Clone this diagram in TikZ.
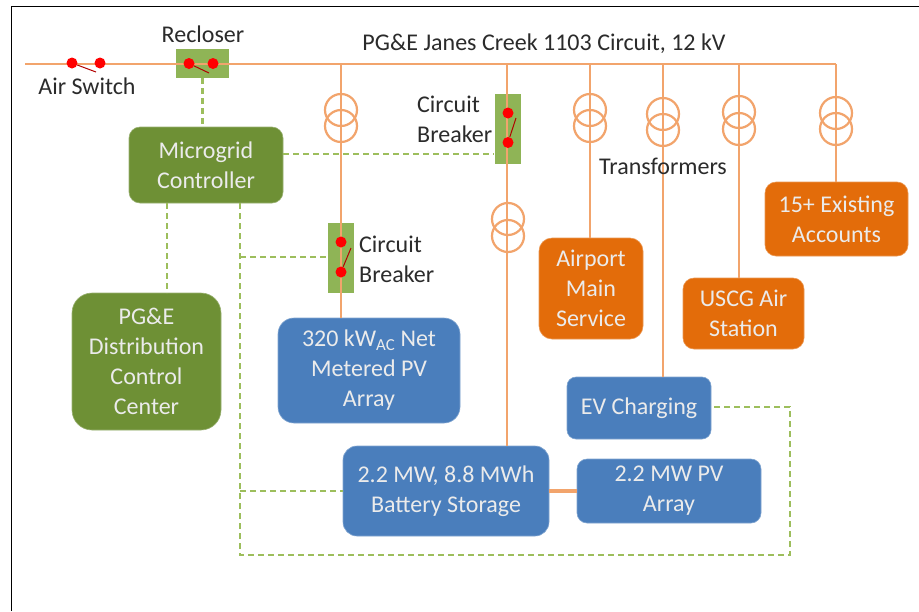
\documentclass[tikz,border=0pt]{standalone}
\usepackage{fontspec}
\setmainfont{Carlito}
\definecolor{wire}{HTML}{F2A46C}
\definecolor{orbox}{HTML}{E36C0A}
\definecolor{grbox}{HTML}{6E9035}
\definecolor{swbox}{HTML}{8FB456}
\definecolor{blbox}{HTML}{4A7EBC}
\definecolor{dash}{HTML}{9DBE5C}
\definecolor{ink}{HTML}{2B2B2B}
\tikzset{
  x=1pt,y=-1pt,
  box/.style={rounded corners=11pt,inner sep=0pt,align=center,text=white!92!black,font=\fontsize{24}{30}\selectfont,anchor=center},
  grn/.style={box,fill=grbox,draw=grbox!70!white,line width=.6pt},
  org/.style={box,fill=orbox,draw=orbox!70!white,line width=.6pt},
  blu/.style={box,fill=blbox,draw=blbox!70!white,line width=.6pt},
  swb/.style={fill=swbox,inner sep=0pt,anchor=center},
  lbl/.style={text=ink,align=left,font=\fontsize{24}{30}\selectfont,inner sep=0pt},
  wirel/.style={draw=wire,line width=2.8pt},
  ctl/.style={draw=dash,line width=2.4pt,dash pattern=on 6pt off 4pt},
  xf/.style={circle,draw=wire,line width=2.2pt,minimum size=32pt,inner sep=0pt},
  contact/.style={circle,fill=red,inner sep=0pt,minimum size=11pt},
  blade/.style={draw=red!70!black,line width=1pt},
}
\begin{document}
\begin{tikzpicture}
\useasboundingbox (0,0) rectangle (919,611);
\fill[white] (0,0) rectangle (919,611);
% frame
\draw[black,line width=1.8pt] (11.5,611) -- (11.5,6.5) -- (919,6.5);

% switch boxes
\node[swb,minimum width=53pt,minimum height=29pt] (recl) at (202.5,63.5) {};
\node[swb,minimum width=26pt,minimum height=70pt] (cb1) at (340.5,257.5) {};
\node[swb,minimum width=26pt,minimum height=70pt] (cb2) at (507.5,128.5) {};

% boxes
\node[grn,minimum width=154pt,minimum height=76pt] (mg) at (206,165) {Microgrid\\Controller};
\node[grn,minimum width=149pt,minimum height=137pt,rounded corners=20pt] (dcc) at (146.5,361.5) {PG\&E\\Distribution\\Control\\Center};
\node[blu,minimum width=182pt,minimum height=105pt,rounded corners=16pt] (pv320) at (369,370.5) {320 kW\textsubscript{AC} Net\\Metered PV\\Array};
\node[blu,minimum width=144pt,minimum height=62pt,rounded corners=9pt] (ev) at (639,408) {EV Charging};
\node[blu,minimum width=206pt,minimum height=90pt,rounded corners=14pt] (batt) at (446,491) {2.2 MW, 8.8 MWh\\Battery Storage};
\node[blu,minimum width=184pt,minimum height=64pt,rounded corners=10pt] (pv22) at (669,491) {2.2 MW PV\\Array};
\node[org,minimum width=104pt,minimum height=101pt,rounded corners=13pt] (air) at (591,288.5) {Airport\\Main\\Service};
\node[org,minimum width=121pt,minimum height=71pt,rounded corners=11pt] (uscg) at (743.5,313.5) {USCG Air\\Station};
\node[org,minimum width=143pt,minimum height=74pt,rounded corners=11pt] (acc) at (836.5,219) {15+ Existing\\Accounts};

% bus taps
\coordinate (busw) at (25,64);
\coordinate (buse) at (836,64);
\coordinate (t1) at (341,64);
\coordinate (t2) at (507,64);
\coordinate (t3) at (590,64);
\coordinate (t4) at (663,64);
\coordinate (t5) at (739,64);
\coordinate (t6) at (836,64);
\coordinate (sw1) at (72,63);
\coordinate (sw2) at (100,63);

% control wiring
\coordinate (j1) at (240,257);
\coordinate (j2) at (240,491);
\coordinate (j3) at (240,555);
\coordinate (j4) at (790,555);
\coordinate (j5) at (790,407);
\draw[ctl] (recl.south) -- (recl.south |- mg.north);
\draw[ctl] (mg.east |- 0,154) -- (cb2.west |- 0,154);
\draw[ctl] (167,203) -- (167,293);
\draw[ctl] (240,203) -- (j1) -- (j2) -- (j3) -- (j4) -- (j5) -- (ev.east |- j5);
\draw[ctl] (j1) -- (cb1.west |- j1);
\draw[ctl] (j2) -- (batt.west |- j2);

% power wiring
\draw[wirel] (busw) -- (buse);
\draw[wirel] (t1) -- (t1 |- pv320.north);
\draw[wirel] (t2) -- (t2 |- batt.north);
\draw[wirel] (t3) -- (t3 |- air.north);
\draw[wirel] (t4) -- (t4 |- ev.north);
\draw[wirel] (t5) -- (t5 |- uscg.north);
\draw[wirel] (t6) -- (t6 |- acc.north);
\draw[draw=wire,line width=3.6pt] (batt.east |- pv22.west) -- (pv22.west);

% transformers
\foreach \n/\x/\a/\b in {a/341/110/126,b/508/219/236,c/590/110/126,d/663/114/130,e/739/112/129,f/836/113/129}{
  \node[xf] (\n1) at (\x,\a) {};
  \node[xf] (\n2) at (\x,\b) {};
}

% contacts
\node[contact] (as1) at (sw1) {};
\node[contact] (as2) at (sw2) {};
\draw[blade] (as1) -- (96,72);
\node[contact] (rc1) at (189,63.5) {};
\node[contact] (rc2) at (213,63.5) {};
\draw[blade] (rc1) -- (209,73);
\node[contact] (c1a) at (341,242) {};
\node[contact] (c1b) at (341,272) {};
\draw[blade] (c1b) -- (351,248);
\node[contact] (c2a) at (508,113) {};
\node[contact] (c2b) at (508,142.5) {};
\draw[blade] (c2b) -- (516,118);

% labels
\node[lbl,anchor=center] (lrec) at (203,34) {Recloser};
\node[lbl,anchor=center] (las) at (87,86) {Air Switch};
\node[lbl,anchor=center] (lbus) at (544,44) {PG\&E Janes Creek 1103 Circuit, 12 kV};
\node[lbl,anchor=west,align=left] (lcb1) at (359,259) {Circuit\\Breaker};
\node[lbl,anchor=west,align=left] (lcb2) at (417,119) {Circuit\\Breaker};
\node[lbl,anchor=center] (ltr) at (663,166) {Transformers};
\end{tikzpicture}
\end{document}
